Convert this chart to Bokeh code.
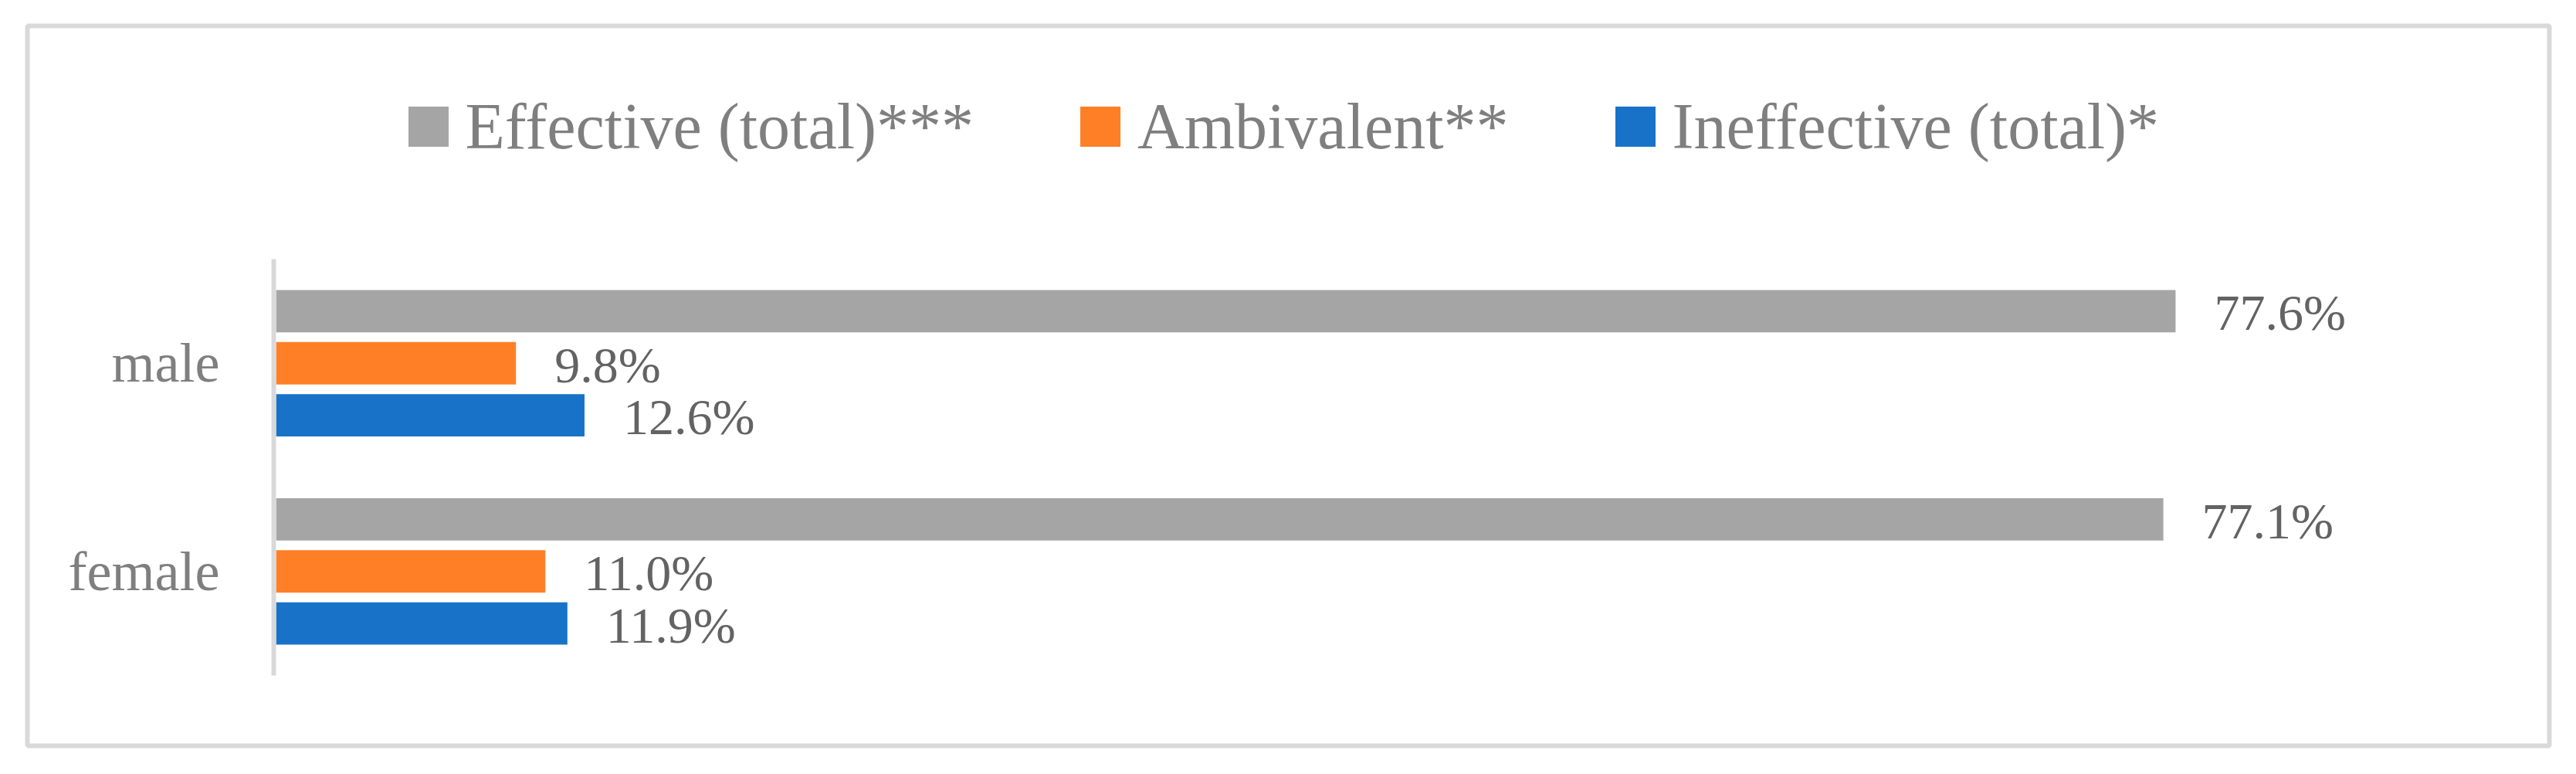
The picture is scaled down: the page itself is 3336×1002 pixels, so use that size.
from bokeh.plotting import figure
from bokeh.models import (ColumnDataSource, Range1d, Legend, LegendItem,
                          LinearAxis, FixedTicker)
from bokeh.transform import dodge
from bokeh.core.properties import value
from bokeh.embed import file_html
from bokeh.resources import INLINE

categories = ["male", "female"]
series_names = ["Effective (total)***", "Ambivalent**", "Ineffective (total)*"]
effective = [77.6, 77.1]
ambivalent = [9.8, 11.0]
ineffective = [12.6, 11.9]
series_values = [effective, ambivalent, ineffective]
series_colors = ["#a5a5a5", "#ff7f27", "#1873c8"]
offsets = [0.25, 0.0, -0.25]

FONT = "Liberation Serif"

n = len(categories)
centers = [n - 1 - i + 0.5 for i in range(n)]

p = figure(output_backend="svg", toolbar_location=None,
           x_range=Range1d(-10.16, 92.87),
           y_range=Range1d(-0.3377, n + 1.1206),
           y_axis_location=None,
           frame_width=3266, frame_height=932,
           min_border_left=35, min_border_top=33,
           min_border_right=35, min_border_bottom=37)

p.xaxis.visible = False
p.xgrid.visible = False
p.ygrid.visible = False
p.outline_line_color = "#d9d9d9"
p.outline_line_width = 6
p.background_fill_color = "white"
p.border_fill_color = "white"

yax = LinearAxis(ticker=FixedTicker(ticks=centers, minor_ticks=[]),
                 major_label_overrides={c: name for c, name in zip(centers, categories)},
                 fixed_location=-0.1, bounds=(0, n))
yax.axis_line_color = "#d9d9d9"
yax.axis_line_width = 6
yax.major_tick_line_color = None
yax.minor_tick_line_color = None
yax.major_tick_out = 0
yax.major_tick_in = 0
yax.major_label_text_font = FONT
yax.major_label_text_font_size = "72px"
yax.major_label_text_color = "#7f7f7f"
yax.major_label_standoff = 70
p.add_layout(yax, "left")

items = []
for name, vals, color, off in zip(series_names, series_values, series_colors, offsets):
    src = ColumnDataSource(dict(yc=centers, val=vals,
                                lab=[f"{v:.1f}%" for v in vals]))
    r = p.hbar(y=dodge("yc", off), left=0, right="val",
               height=0.204, source=src, fill_color=color, line_color=None)
    p.text(x="val", y=dodge("yc", off), text="lab", source=src,
           x_offset=50, y_offset=2, text_baseline="middle", text_align="left",
           text_font=value(FONT), text_font_size="66px", text_color="#636363")
    items.append(LegendItem(label=name, renderers=[r]))

legend = Legend(items=items, orientation="horizontal", location=(486.5, 751.5),
                glyph_width=65, glyph_height=65, label_height=100,
                label_standoff=16, spacing=131,
                padding=0, margin=0, border_line_color=None,
                background_fill_alpha=0,
                label_text_font=FONT, label_text_font_size="84px",
                label_text_color="#7f7f7f")
p.add_layout(legend)

open("out.html", "w").write(file_html(p, INLINE))
